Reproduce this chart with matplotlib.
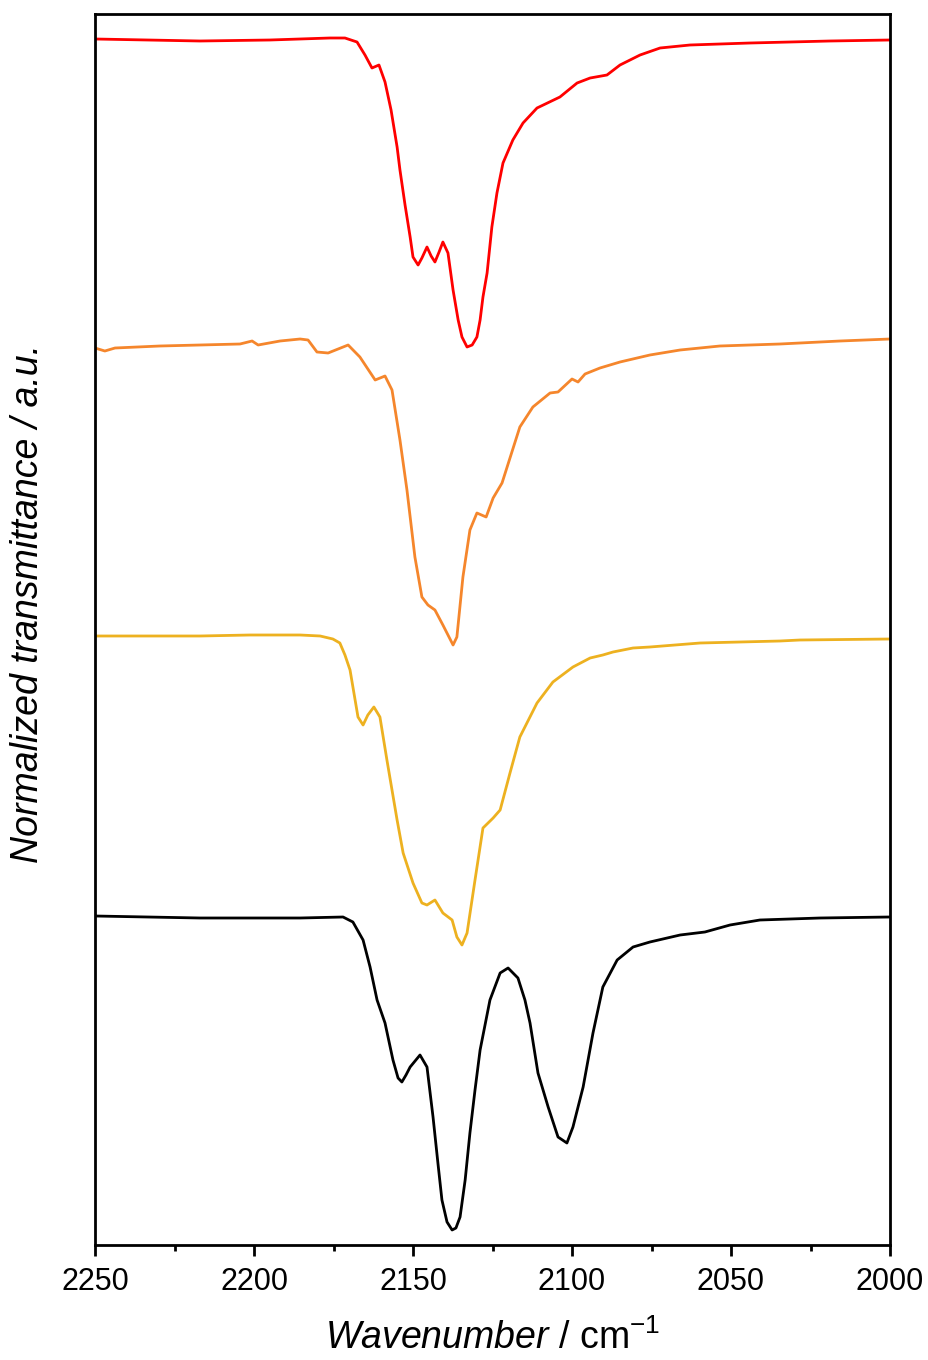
import matplotlib
matplotlib.use("Agg")
import matplotlib.pyplot as plt
from matplotlib.ticker import MultipleLocator

plt.rcParams['font.family'] = ['Liberation Sans', 'DejaVu Sans']
plt.rcParams['mathtext.fontset'] = 'custom'
plt.rcParams['mathtext.rm'] = 'Liberation Sans'
plt.rcParams['mathtext.it'] = 'Liberation Sans:italic'

# ---- data (wavenumber / cm-1, normalized transmittance with vertical offsets) ----
red_x = [2250.0, 2217.0, 2195.0, 2176.1, 2171.4, 2167.6, 2165.1, 2162.9, 2160.7, 2158.8,
         2156.9, 2155.0, 2154.1, 2152.5, 2150.9, 2150.0, 2148.4, 2147.2, 2145.6, 2144.3,
         2143.1, 2141.8, 2140.6, 2139.0, 2137.4, 2135.8, 2134.6, 2133.0, 2131.4, 2129.9,
         2128.9, 2128.0, 2126.7, 2125.2, 2123.6, 2121.7, 2118.6, 2115.4, 2111.0, 2103.8,
         2098.4, 2094.3, 2089.0, 2084.9, 2078.6, 2072.3, 2062.9, 2044.0, 2018.9, 2000.0]
red_y = [12.06, 12.04, 12.05, 12.07, 12.07, 12.03, 11.90, 11.77, 11.80, 11.63,
         11.35, 10.98, 10.75, 10.40, 10.08, 9.88, 9.80, 9.87, 9.98, 9.89,
         9.83, 9.93, 10.03, 9.92, 9.55, 9.25, 9.08, 8.98, 9.00, 9.08,
         9.25, 9.48, 9.72, 10.18, 10.52, 10.82, 11.05, 11.22, 11.37, 11.48,
         11.62, 11.67, 11.70, 11.80, 11.90, 11.97, 12.00, 12.02, 12.04, 12.05]

orange_x = [2250.0, 2246.9, 2243.7, 2229.6, 2217.0, 2204.4, 2200.6, 2198.7, 2191.8, 2185.5,
            2183.0, 2180.2, 2176.7, 2170.4, 2166.7, 2161.9, 2158.8, 2156.6, 2154.1, 2151.9,
            2149.4, 2147.2, 2145.3, 2143.1, 2140.6, 2137.4, 2136.2, 2134.3, 2132.1, 2129.9,
            2127.0, 2124.8, 2122.0, 2119.5, 2116.4, 2112.3, 2106.9, 2104.4, 2100.0, 2098.1,
            2095.9, 2091.2, 2084.9, 2075.5, 2066.0, 2053.5, 2034.6, 2015.7, 2000.0]
orange_y = [8.97, 8.94, 8.97, 8.99, 9.00, 9.01, 9.04, 9.00, 9.04, 9.06,
            9.05, 8.93, 8.92, 9.00, 8.88, 8.65, 8.69, 8.55, 8.05, 7.55,
            6.88, 6.48, 6.40, 6.35, 6.20, 6.00, 6.08, 6.68, 7.15, 7.32,
            7.28, 7.47, 7.62, 7.87, 8.18, 8.38, 8.52, 8.53, 8.66, 8.63,
            8.71, 8.77, 8.83, 8.90, 8.95, 8.99, 9.01, 9.04, 9.06]

yellow_x = [2250.0, 2232.7, 2217.0, 2201.3, 2185.5, 2179.2, 2175.2, 2173.0, 2171.4, 2169.8,
            2167.3, 2165.7, 2164.2, 2162.3, 2160.4, 2158.2, 2155.0, 2153.1, 2150.0, 2147.2,
            2145.6, 2143.1, 2140.6, 2137.7, 2136.2, 2134.6, 2133.0, 2130.5, 2128.0, 2124.8,
            2122.6, 2119.5, 2116.4, 2111.0, 2106.0, 2099.7, 2094.3, 2090.3, 2087.1, 2080.8,
            2075.5, 2059.7, 2034.6, 2028.3, 2000.0]
yellow_y = [6.09, 6.09, 6.09, 6.10, 6.10, 6.09, 6.06, 6.02, 5.90, 5.75,
            5.28, 5.20, 5.30, 5.38, 5.28, 4.85, 4.25, 3.92, 3.62, 3.42,
            3.40, 3.45, 3.32, 3.25, 3.08, 3.00, 3.12, 3.65, 4.17, 4.27,
            4.35, 4.72, 5.08, 5.42, 5.63, 5.78, 5.87, 5.90, 5.93, 5.97,
            5.98, 6.02, 6.04, 6.05, 6.06]

black_x = [2250.0, 2217.0, 2185.5, 2172.0, 2168.9, 2165.7, 2163.5, 2161.3, 2158.8, 2156.3,
           2154.7, 2153.5, 2152.2, 2150.9, 2147.8, 2145.6, 2143.7, 2142.1, 2140.9, 2139.3,
           2137.7, 2136.5, 2135.2, 2133.6, 2132.1, 2130.5, 2128.9, 2125.8, 2122.6, 2120.1,
           2117.0, 2114.8, 2113.2, 2110.7, 2107.5, 2104.4, 2101.6, 2099.7, 2096.5, 2093.4,
           2090.3, 2085.8, 2080.8, 2075.5, 2066.0, 2058.2, 2050.3, 2040.9, 2022.0, 2000.0]
black_y = [3.29, 3.27, 3.27, 3.28, 3.23, 3.05, 2.78, 2.45, 2.22, 1.85,
           1.67, 1.63, 1.70, 1.78, 1.90, 1.78, 1.28, 0.80, 0.45, 0.23,
           0.15, 0.17, 0.28, 0.65, 1.12, 1.55, 1.95, 2.45, 2.72, 2.77,
           2.67, 2.45, 2.22, 1.72, 1.38, 1.08, 1.02, 1.18, 1.58, 2.12,
           2.58, 2.85, 2.98, 3.03, 3.10, 3.13, 3.20, 3.25, 3.27, 3.28]

xticks = [2250, 2200, 2150, 2100, 2050, 2000]

# ---- figure ----
fig = plt.figure(figsize=(9.29, 13.60), dpi=100)
ax = fig.add_axes([95/929, 115/1360, 795/929, 1231/1360])

lw = 2.0
kw = dict(lw=lw, solid_joinstyle='round', solid_capstyle='round')
ax.plot(red_x, red_y, color='#FF0000', **kw)
ax.plot(orange_x, orange_y, color='#F5862C', **kw)
ax.plot(yellow_x, yellow_y, color='#EDB120', **kw)
ax.plot(black_x, black_y, color='#000000', **kw)

ax.set_xlim(2250, 2000)
ax.set_ylim(0, 12.31)
ax.set_xticks(xticks)
ax.xaxis.set_minor_locator(MultipleLocator(25))
ax.set_yticks([])

for s in ax.spines.values():
    s.set_linewidth(2.0)

ax.tick_params(axis='x', which='major', direction='out', length=8, width=2.0,
               labelsize=22, pad=8)
ax.tick_params(axis='x', which='minor', direction='out', length=4, width=2.0)

ax.set_xlabel(r'$\it{Wavenumber}$ / cm$^{-1}$', fontsize=27, labelpad=16)
ax.set_ylabel('Normalized transmittance / a.u.', fontsize=27, style='italic')
ax.yaxis.set_label_coords(-0.062, 0.521)

fig.savefig('out.png', dpi=100)
